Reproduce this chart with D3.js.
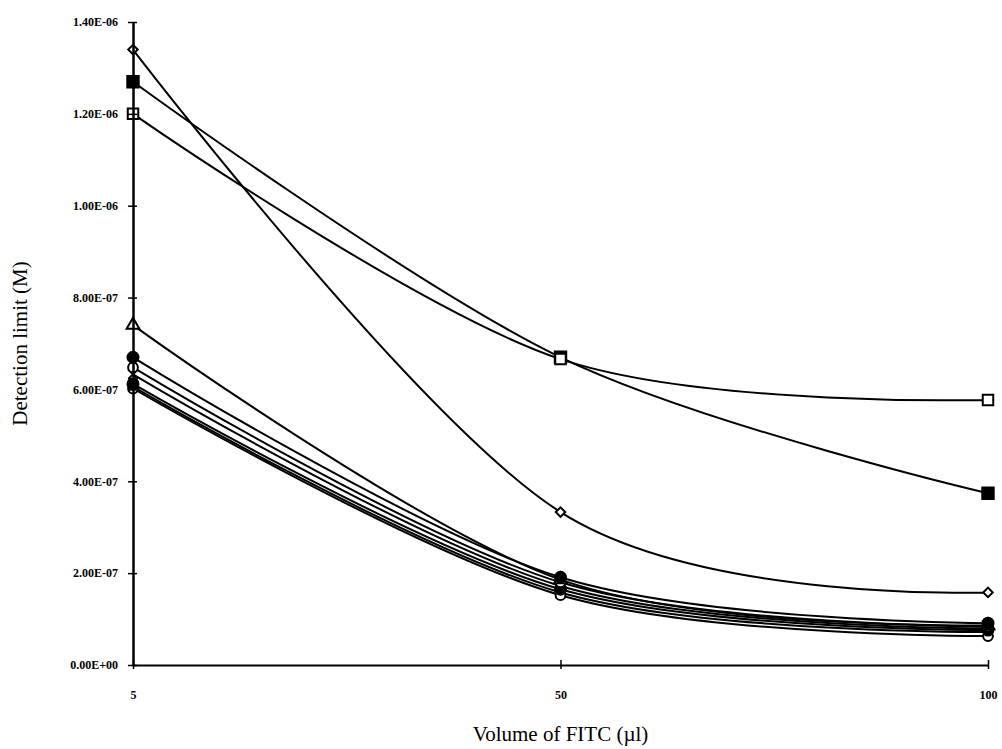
<!DOCTYPE html>
<html>
<head>
<meta charset="utf-8">
<script src="https://cdn.jsdelivr.net/npm/d3@7"></script>
<style>
  body { margin: 0; background: #fff; }
  svg text { font-family: "Liberation Serif", "DejaVu Serif", serif; fill: #000; }
</style>
</head>
<body>
<div id="chart"></div>
<script>
// ===== DATA =====
const volumes = ["5", "50", "100"];

const diamondOpen  = [1.34e-6, 3.33e-7, 1.58e-7];
const squareFilled = [1.27e-6, 6.70e-7, 3.74e-7];
const squareOpen   = [1.20e-6, 6.66e-7, 5.77e-7];
const triangleOpen = [7.40e-7, 1.86e-7, 8.6e-8];
const circleFilledA = [6.70e-7, 1.91e-7, 9.1e-8];
const circleOpenA  = [6.48e-7, 1.80e-7, 8.4e-8];
const crossMark    = [6.33e-7, 1.72e-7, 8.0e-8];
const circleFilledB = [6.12e-7, 1.65e-7, 7.6e-8];
const plainLine    = [6.06e-7, 1.58e-7, 7.2e-8];
const circleOpenB  = [6.02e-7, 1.52e-7, 6.3e-8];

const yTicks = [0, 2e-7, 4e-7, 6e-7, 8e-7, 1e-6, 1.2e-6, 1.4e-6];

const series = [
    { values: plainLine, marker: "none" },
    { values: circleOpenB, marker: "circleOpen" },
    { values: circleFilledB, marker: "circleFilled" },
    { values: crossMark, marker: "cross" },
    { values: circleOpenA, marker: "circleOpen" },
    { values: triangleOpen, marker: "triangleOpen" },
    { values: circleFilledA, marker: "circleFilled" },
    { values: squareFilled, marker: "squareFilled" },
    { values: squareOpen, marker: "squareOpen" },
    { values: diamondOpen, marker: "diamondOpen" },
];

// Excel style scientific format: 1.40E-06
function sci(v) {
    if (v === 0) return "0.00E+00";
    const [m, e] = v.toExponential(2).toUpperCase().split("E");
    const n = parseInt(e, 10);
    const sign = n < 0 ? "-" : "+";
    return m + "E" + sign + String(Math.abs(n)).padStart(2, "0");
}

const width = 1002, height = 749;
const plotLeft = 133, plotRight = 988, plotTop = 22, plotBottom = 665;

const svg = d3.select('#chart')
    .append('svg')
    .attr('width', width)
    .attr('height', height);

const x = d3.scalePoint().domain(volumes).range([plotLeft, plotRight]);
const y = d3.scaleLinear().domain([0, 1.4e-6]).range([plotBottom, plotTop]);

// Lines
const line = d3.line()
    .x((d, i) => x(volumes[i]))
    .y(d => y(d))
    .curve(d3.curveCardinal.tension(0));

svg.append('g')
    .selectAll('path')
    .data(series)
    .enter().append('path')
    .attr('d', d => line(d.values))
    .attr('fill', 'none')
    .attr('stroke', '#000')
    .attr('stroke-width', 2);

// Markers
const symbolFor = {
    circleOpen: d3.symbolCircle,
    circleFilled: d3.symbolCircle,
    squareOpen: d3.symbolSquare,
    squareFilled: d3.symbolSquare,
    triangleOpen: d3.symbolTriangle,
    diamondOpen: d3.symbolSquare,
    cross: d3.symbolX
};
const sizeFor = {
    circleOpen: 75, circleFilled: 95, squareOpen: 110, squareFilled: 130,
    triangleOpen: 70, diamondOpen: 45, cross: 60
};

series.forEach(s => {
    if (s.marker === "none") return;
    const filled = s.marker.indexOf("Filled") >= 0;
    const rot = s.marker === "diamondOpen" ? " rotate(45)" : "";
    svg.append('g')
        .selectAll('path')
        .data(s.values)
        .enter().append('path')
        .attr('transform', (d, i) => `translate(${x(volumes[i])},${y(d)})${rot}`)
        .attr('d', d3.symbol().type(symbolFor[s.marker]).size(sizeFor[s.marker]))
        .attr('fill', s.marker === "cross" ? 'none' : (filled ? '#000' : '#fff'))
        .attr('stroke', '#000')
        .attr('stroke-width', 2);
});

// Y axis
const yAxis = svg.append('g')
    .attr('transform', `translate(${plotLeft},0)`)
    .call(d3.axisLeft(y).tickValues(yTicks).tickFormat(sci).tickSize(6).tickSizeOuter(0));
yAxis.select('.domain').attr('stroke-width', 2.5);
yAxis.selectAll('.tick line').attr('stroke-width', 1.5).attr('x2', 4).attr('x1', -5);
yAxis.selectAll('.tick text')
    .attr('x', -15)
    .attr('font-size', '12px')
    .attr('font-weight', 'bold')
    .style('font-family', '"Liberation Serif", serif');

// X axis
const xAxis = svg.append('g')
    .attr('transform', `translate(0,${plotBottom})`)
    .call(d3.axisBottom(x).tickSize(0).tickSizeOuter(0));
xAxis.select('.domain').attr('stroke-width', 2);
xAxis.selectAll('.tick line').attr('stroke', '#000').attr('y1', -5).attr('y2', 4).attr('stroke-width', 1.5);
xAxis.selectAll('.tick text')
    .attr('dy', 0)
    .attr('y', 34)
    .attr('font-size', '12px')
    .attr('font-weight', 'bold')
    .style('font-family', '"Liberation Serif", serif');

// Axis titles
svg.append('text')
    .attr('transform', `translate(27,${(plotTop + plotBottom) / 2}) rotate(-90)`)
    .attr('text-anchor', 'middle')
    .attr('font-size', '21px')
    .text('Detection limit (M)');

svg.append('text')
    .attr('x', (plotLeft + plotRight) / 2)
    .attr('y', 741)
    .attr('text-anchor', 'middle')
    .attr('font-size', '21px')
    .text('Volume of FITC (\u00b5l)');
</script>
</body>
</html>
